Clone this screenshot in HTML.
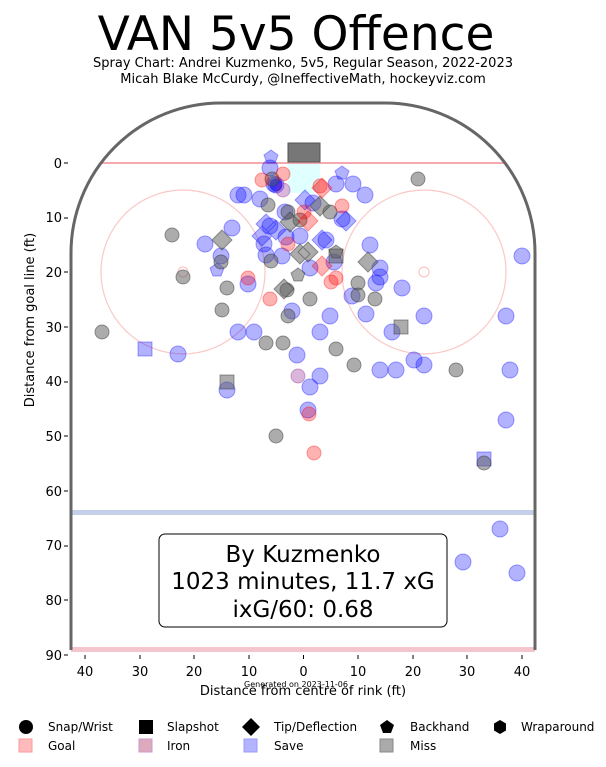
<!DOCTYPE html>
<html><head><meta charset="utf-8"><style>body{margin:0;background:#fff}svg{display:block}text{font-family:"DejaVu Sans","Liberation Sans",sans-serif}</style></head>
<body>
<svg width="606" height="767" viewBox="0 0 606 767" xmlns="http://www.w3.org/2000/svg">
<text x="296" y="50" font-size="47" text-anchor="middle">VAN 5v5 Offence</text>
<text x="303" y="67" font-size="13" text-anchor="middle">Spray Chart: Andrei Kuzmenko, 5v5, Regular Season, 2022-2023</text>
<text x="303" y="83" font-size="13" text-anchor="middle">Micah Blake McCurdy, @IneffectiveMath, hockeyviz.com</text>
<rect x="288" y="163" width="32" height="30" fill="#e0ffff"/>
<line x1="100" y1="163" x2="506" y2="163" stroke="#f4a8b0" stroke-width="2"/>
<rect x="71" y="510" width="464" height="5" fill="#c4cfea"/>
<rect x="71" y="647" width="464" height="5" fill="#f4c5cd"/>
<circle cx="183" cy="272" r="82" fill="none" stroke="#fbc8c8" stroke-width="1.2"/>
<circle cx="424" cy="272" r="82" fill="none" stroke="#fbc8c8" stroke-width="1.2"/>
<circle cx="183" cy="272" r="5" fill="none" stroke="#fbb" stroke-width="1"/>
<circle cx="424" cy="272" r="5" fill="none" stroke="#fbb" stroke-width="1"/>
<rect x="288" y="143" width="32" height="19" fill="#777" stroke="#555"/>
<path d="M71,650 L71,253 A150,150 0 0 1 221,103 L385,103 A150,150 0 0 1 535,253 L535,650" fill="none" stroke="#666" stroke-width="3"/>
<g font-size="13" text-anchor="end">
<text x="62" y="168">0</text><text x="62" y="222">10</text><text x="62" y="277">20</text><text x="62" y="332">30</text><text x="62" y="386">40</text><text x="62" y="441">50</text><text x="62" y="496">60</text><text x="62" y="550">70</text><text x="62" y="605">80</text><text x="62" y="660">90</text>
</g>
<g stroke="#000"><line x1="64" y1="163" x2="68" y2="163"/><line x1="64" y1="218" x2="68" y2="218"/><line x1="64" y1="272" x2="68" y2="272"/><line x1="64" y1="327" x2="68" y2="327"/><line x1="64" y1="382" x2="68" y2="382"/><line x1="64" y1="436" x2="68" y2="436"/><line x1="64" y1="491" x2="68" y2="491"/><line x1="64" y1="546" x2="68" y2="546"/><line x1="64" y1="600" x2="68" y2="600"/><line x1="64" y1="655" x2="68" y2="655"/>
<line x1="85" y1="655" x2="85" y2="659"/><line x1="140" y1="655" x2="140" y2="659"/><line x1="194" y1="655" x2="194" y2="659"/><line x1="249" y1="655" x2="249" y2="659"/><line x1="303.5" y1="655" x2="303.5" y2="659"/><line x1="358" y1="655" x2="358" y2="659"/><line x1="413" y1="655" x2="413" y2="659"/><line x1="467" y1="655" x2="467" y2="659"/><line x1="522" y1="655" x2="522" y2="659"/></g>
<g font-size="13" text-anchor="middle">
<text x="85" y="676">40</text><text x="140" y="676">30</text><text x="194" y="676">20</text><text x="249" y="676">10</text><text x="303.5" y="676">0</text><text x="358" y="676">10</text><text x="413" y="676">20</text><text x="467" y="676">30</text><text x="522" y="676">40</text>
<text x="303" y="695">Distance from centre of rink (ft)</text>
<text x="34" y="320" transform="rotate(-90 34 320)">Distance from goal line (ft)</text>
</g>
<text x="296" y="687" font-size="8" text-anchor="middle">Generated on 2023-11-06</text>
<g fill="rgba(0,0,255,0.3)" stroke="rgba(0,0,255,0.35)">
<circle cx="238" cy="195" r="8"/><circle cx="244" cy="195" r="8"/><circle cx="232" cy="228" r="8"/><circle cx="260" cy="199" r="8"/><circle cx="270" cy="168" r="8"/><circle cx="274" cy="184" r="8"/><circle cx="276" cy="185" r="8"/><circle cx="276" cy="185" r="6" fill="rgba(0,0,255,0.6)"/><circle cx="285" cy="212" r="8"/><circle cx="270" cy="226" r="8"/><circle cx="264" cy="244" r="8"/><circle cx="282" cy="256" r="8"/><circle cx="286" cy="237" r="8"/><circle cx="300" cy="236" r="8"/><circle cx="313" cy="203" r="8"/><circle cx="336" cy="184" r="8"/><circle cx="353" cy="184" r="8"/><circle cx="365" cy="195" r="8"/><circle cx="342" cy="219" r="8"/><circle cx="370" cy="245" r="8"/><circle cx="376" cy="283" r="8"/><circle cx="402" cy="288" r="8"/><circle cx="380" cy="268" r="8"/><circle cx="380" cy="277" r="8"/><circle cx="424" cy="316" r="8"/><circle cx="392" cy="332" r="8"/><circle cx="380" cy="370" r="8"/><circle cx="396" cy="370" r="8"/><circle cx="414" cy="360" r="8"/><circle cx="424" cy="365" r="8"/><circle cx="506" cy="316" r="8"/><circle cx="510" cy="370" r="8"/><circle cx="506" cy="420" r="8"/><circle cx="522" cy="256" r="8"/><circle cx="238" cy="332" r="8"/><circle cx="254" cy="332" r="8"/><circle cx="297" cy="355" r="8"/><circle cx="310" cy="387" r="8"/><circle cx="320" cy="376" r="8"/><circle cx="308" cy="410" r="8"/><circle cx="330" cy="316" r="8"/><circle cx="292" cy="311" r="8"/><circle cx="178" cy="354" r="8"/><circle cx="227" cy="390" r="8"/><circle cx="221" cy="256" r="8"/><circle cx="248" cy="284" r="8"/><circle cx="310" cy="268" r="8"/><circle cx="326" cy="240" r="8"/><circle cx="352" cy="296" r="8"/><circle cx="334" cy="262" r="8"/><circle cx="205" cy="244" r="8"/><circle cx="463" cy="562" r="8"/><circle cx="500" cy="529" r="8"/><circle cx="517" cy="573" r="8"/><circle cx="320" cy="332" r="8"/><circle cx="366" cy="314" r="8"/><circle cx="266" cy="255" r="8"/>
<rect x="138" y="342" width="14" height="14"/><rect x="477" y="452" width="14" height="14"/>
<path d="M305,190 l10,10 -10,10 -10,-10z M266,214 l10,10 -10,10 -10,-10z M276,220 l10,10 -10,10 -10,-10z M346,211 l10,10 -10,10 -10,-10z M322,230 l10,10 -10,10 -10,-10z M262,226 l10,10 -10,10 -10,-10z"/>
<path d="M271,150 l7,5 -3,8 -8,0 -3,-8z M342,166 l7,5 -3,8 -8,0 -3,-8z M217,263 l7,5 -3,8 -8,0 -3,-8z"/>
</g>
<g fill="rgba(90,90,90,0.5)" stroke="rgba(60,60,60,0.5)">
<circle cx="172" cy="235" r="7"/><circle cx="418" cy="179" r="7"/><circle cx="183" cy="277" r="7"/><circle cx="221" cy="262" r="7"/><circle cx="227" cy="288" r="7"/><circle cx="222" cy="310" r="7"/><circle cx="271" cy="261" r="7"/><circle cx="266" cy="343" r="7"/><circle cx="283" cy="343" r="7"/><circle cx="288" cy="316" r="7"/><circle cx="287" cy="290" r="7"/><circle cx="310" cy="299" r="7"/><circle cx="336" cy="349" r="7"/><circle cx="354" cy="365" r="7"/><circle cx="358" cy="283" r="7"/><circle cx="358" cy="295" r="7"/><circle cx="375" cy="299" r="7"/><circle cx="456" cy="370" r="7"/><circle cx="484" cy="463" r="7"/><circle cx="276" cy="436" r="7"/><circle cx="102" cy="332" r="7"/><circle cx="272" cy="179" r="7"/><circle cx="288" cy="212" r="7"/><circle cx="268" cy="205" r="7"/><circle cx="330" cy="212" r="7"/><circle cx="300" cy="220" r="7"/>
<path d="M222,230 l10,10 -10,10 -10,-10z M284,279 l10,10 -10,10 -10,-10z M300,244 l10,10 -10,10 -10,-10z M320,196 l10,10 -10,10 -10,-10z M290,212 l10,10 -10,10 -10,-10z M368,252 l10,10 -10,10 -10,-10z M308,242 l10,10 -10,10 -10,-10z"/>
<rect x="220" y="375" width="14" height="14"/><rect x="394" y="320" width="14" height="14"/><rect x="329" y="249" width="14" height="14"/>
<path d="M298,268 l7,5 -3,8 -8,0 -3,-8z M336,245 l7,5 -3,8 -8,0 -3,-8z"/>
</g>
<g fill="rgba(255,0,0,0.3)" stroke="rgba(255,0,0,0.35)">
<circle cx="262" cy="180" r="7"/><circle cx="283" cy="174" r="7"/><circle cx="342" cy="206" r="7"/><circle cx="320" cy="186" r="7"/><circle cx="248" cy="278" r="7"/><circle cx="336" cy="278" r="7"/><circle cx="309" cy="414" r="7"/><circle cx="314" cy="453" r="7"/><circle cx="270" cy="299" r="7"/><circle cx="304" cy="212" r="7"/><circle cx="331" cy="282" r="7"/><circle cx="288" cy="244" r="7"/>
<path d="M322,178 l10,10 -10,10 -10,-10z M322,256 l10,10 -10,10 -10,-10z M308,211 l10,10 -10,10 -10,-10z"/>
</g>
<g fill="rgba(150,50,150,0.35)" stroke="rgba(150,50,150,0.4)"><circle cx="298" cy="376" r="7"/><circle cx="283" cy="190" r="7"/></g>
<rect x="159" y="534" width="288" height="93" rx="6" fill="#fff" stroke="#000"/>
<g font-size="23" text-anchor="middle"><text x="303" y="562">By Kuzmenko</text><text x="303" y="589">1023 minutes, 11.7 xG</text><text x="303" y="617">ixG/60: 0.68</text></g>
<g font-size="12">
<circle cx="26" cy="727" r="7"/><text x="48" y="731">Snap/Wrist</text>
<rect x="139" y="720" width="14" height="14"/><text x="167" y="731">Slapshot</text>
<path d="M251,718 l9,9 -9,9 -9,-9z"/><text x="274" y="731">Tip/Deflection</text>
<path d="M387,720 l7,5 -3,8 -8,0 -3,-8z"/><text x="410" y="731">Backhand</text>
<path d="M500,720 l6,3.5 0,7 -6,3.5 -6,-3.5 0,-7z"/><text x="521" y="731">Wraparound</text>
<rect x="19" y="739" width="13" height="13" fill="#fbb" stroke="#f99"/><text x="48" y="750">Goal</text>
<rect x="139" y="739" width="13" height="13" fill="#dab" stroke="#c9c"/><text x="167" y="750">Iron</text>
<rect x="244" y="739" width="13" height="13" fill="#b3b3ff" stroke="#99f"/><text x="274" y="750">Save</text>
<rect x="380" y="739" width="13" height="13" fill="#aaa" stroke="#888"/><text x="410" y="750">Miss</text>
</g>
</svg>
</body></html>
